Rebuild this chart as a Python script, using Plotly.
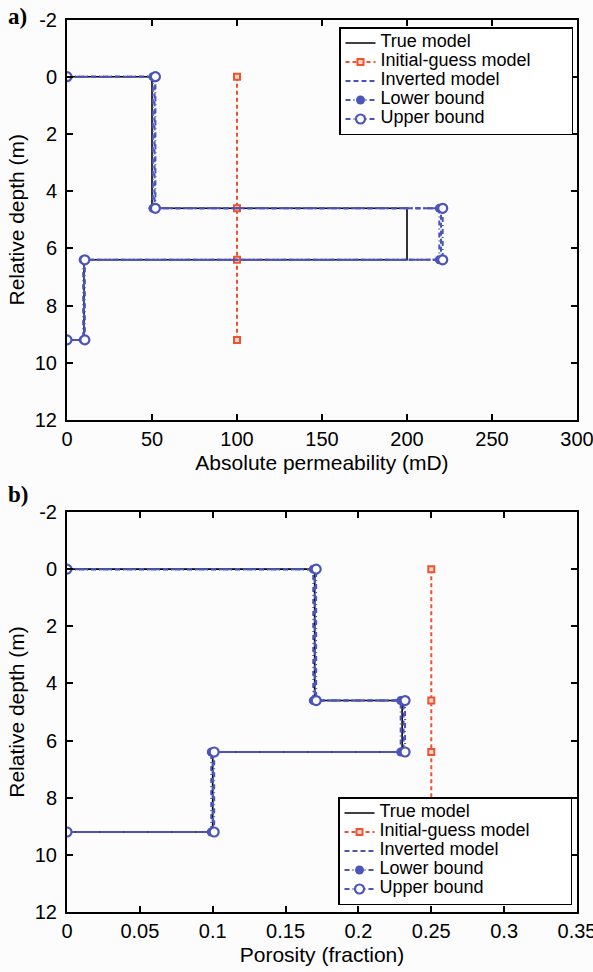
import plotly.graph_objects as go

# ---------------- data ----------------
layer_tops = [0, 4.6, 6.4, 9.2]          # depths of interfaces (m)

perm_true = [50, 200, 10]
perm_inverted = [51.5, 220, 10]
perm_lower = [50.5, 219, 9.5]
perm_upper = [52, 221, 10.5]
perm_initial = [100, 100, 100, 100]

poro_true = [0.17, 0.23, 0.10]
poro_inverted = [0.17, 0.231, 0.10]
poro_lower = [0.169, 0.229, 0.099]
poro_upper = [0.171, 0.232, 0.101]
poro_initial = [0.25, 0.25, 0.25, 0.25]

depth_ticks = [-2, 0, 2, 4, 6, 8, 10, 12]
perm_ticks = [0, 50, 100, 150, 200, 250, 300]
poro_ticks = [0, 0.05, 0.1, 0.15, 0.2, 0.25, 0.3, 0.35]

series_names = ["True model", "Initial-guess model", "Inverted model",
                "Lower bound", "Upper bound"]

BLUE = "#4b55b9"
RED = "#f0522f"
BG = "#fcfcfd"
FONT = "Liberation Sans, Arial, sans-serif"
DASH = "5px,3px"
DASHDOT = "5px,3px,1px,3px"


def stairs(values, depths):
    xs, ys = [0], [depths[0]]
    for i, v in enumerate(values):
        xs += [v, v]
        ys += [depths[i], depths[i + 1]]
    xs.append(0)
    ys.append(depths[-1])
    return xs, ys


def lname(s, pad=0):
    return '<span style="font-size:18px">%s%s</span>' % (s, "\u00a0" * pad)


fig = go.Figure()

panels = [
    (perm_true, perm_initial, perm_inverted, perm_lower, perm_upper, "x", "y", "legend"),
    (poro_true, poro_initial, poro_inverted, poro_lower, poro_upper, "x2", "y2", "legend2"),
]

for tv, iv, inv, lo, up, xa, ya, lg in panels:
    x, y = stairs(tv, layer_tops)
    fig.add_trace(go.Scatter(x=x, y=y, mode="lines", name=lname(series_names[0]),
                             line=dict(color="black", width=1.6),
                             xaxis=xa, yaxis=ya, legend=lg))
    fig.add_trace(go.Scatter(x=iv, y=layer_tops, mode="lines+markers",
                             name=lname(series_names[1], 7),
                             line=dict(color=RED, width=2, dash="4px,3px"),
                             marker=dict(symbol="square", size=6, color="#ffd9cc",
                                         line=dict(width=2, color=RED)),
                             xaxis=xa, yaxis=ya, legend=lg))
    x, y = stairs(inv, layer_tops)
    fig.add_trace(go.Scatter(x=x, y=y, mode="lines", name=lname(series_names[2]),
                             line=dict(color=BLUE, width=2, dash=DASH),
                             xaxis=xa, yaxis=ya, legend=lg))
    x, y = stairs(lo, layer_tops)
    fig.add_trace(go.Scatter(x=x, y=y, mode="lines+markers", name=lname(series_names[3]),
                             line=dict(color=BLUE, width=2, dash=DASHDOT),
                             marker=dict(symbol="circle", size=9, color=BLUE),
                             xaxis=xa, yaxis=ya, legend=lg))
    x, y = stairs(up, layer_tops)
    fig.add_trace(go.Scatter(x=x, y=y, mode="lines+markers", name=lname(series_names[4]),
                             line=dict(color=BLUE, width=2, dash=DASHDOT),
                             marker=dict(symbol="circle", size=9, color="white",
                                         line=dict(width=2.2, color=BLUE)),
                             xaxis=xa, yaxis=ya, legend=lg))

W, H = 593, 972
xd = [67 / W, 577 / W]
ytop = [1 - 420 / H, 1 - 19.5 / H]
ybot = [1 - 912 / H, 1 - 512 / H]

axis_common = dict(showline=True, linecolor="black", linewidth=2, mirror="ticks",
                   ticks="inside", ticklen=6, tickwidth=1.5, tickcolor="black",
                   showgrid=False, zeroline=False, automargin=False,
                   ticklabeloverflow="allow",
                   tickfont=dict(family=FONT, size=20, color="black"))


def ttext(vals):
    return ["%g" % v for v in vals]


def ytitle():
    return dict(text="Relative depth (m)", standoff=4, font=dict(family=FONT, size=21))


def xtitle(t):
    return dict(text=t, standoff=6, font=dict(family=FONT, size=21))


fig.update_layout(
    width=W, height=H,
    margin=dict(l=0, r=0, t=0, b=0, autoexpand=False),
    paper_bgcolor=BG, plot_bgcolor=BG,
    font=dict(family=FONT, color="black"),
    xaxis=dict(domain=xd, anchor="y", range=[0, 300], tickvals=perm_ticks,
               ticktext=ttext(perm_ticks),
               title=xtitle("Absolute permeability (mD)"), **axis_common),
    yaxis=dict(domain=ytop, anchor="x", range=[12, -2], tickvals=depth_ticks,
               ticktext=ttext(depth_ticks), ticklabelstandoff=4,
               title=ytitle(), **axis_common),
    xaxis2=dict(domain=xd, anchor="y2", range=[0, 0.35], tickvals=poro_ticks,
                ticktext=ttext(poro_ticks),
                title=xtitle("Porosity (fraction)"), **axis_common),
    yaxis2=dict(domain=ybot, anchor="x2", range=[12, -2], tickvals=depth_ticks,
                ticktext=ttext(depth_ticks), ticklabelstandoff=4,
                title=ytitle(), **axis_common),
    legend=dict(x=339 / W, y=1 - 27 / H, xanchor="left", yanchor="top",
                bgcolor="white", bordercolor="black", borderwidth=1.5,
                font=dict(family=FONT, size=11), tracegroupgap=0,
                itemwidth=30),
    legend2=dict(x=338 / W, y=1 - 905 / H, xanchor="left", yanchor="bottom",
                 bgcolor="white", bordercolor="black", borderwidth=1.5,
                 font=dict(family=FONT, size=11), tracegroupgap=0,
                 itemwidth=30),
    annotations=[
        dict(text="<b>a)</b>", x=6 / W, y=1 - 2 / H, xref="paper", yref="paper",
             xanchor="left", yanchor="top", showarrow=False,
             font=dict(family="Liberation Serif, Times New Roman, serif", size=23)),
        dict(text="<b>b)</b>", x=6 / W, y=1 - 480 / H, xref="paper", yref="paper",
             xanchor="left", yanchor="top", showarrow=False,
             font=dict(family="Liberation Serif, Times New Roman, serif", size=23)),
    ],
)

fig.write_html("out.html")
